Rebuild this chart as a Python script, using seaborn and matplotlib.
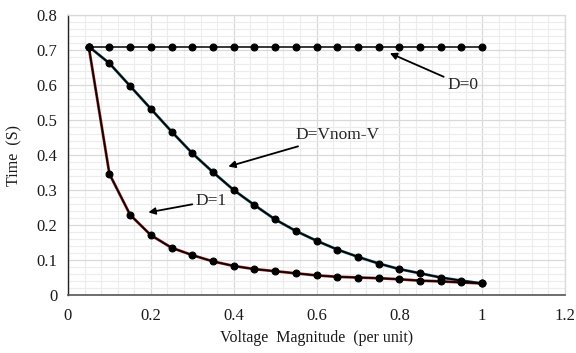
import matplotlib
matplotlib.use("Agg")
import matplotlib.pyplot as plt
import seaborn as sns
import pandas as pd
from matplotlib.ticker import MultipleLocator

voltage = [0.05, 0.10, 0.15, 0.20, 0.25, 0.30, 0.35, 0.40, 0.45, 0.50,
           0.55, 0.60, 0.65, 0.70, 0.75, 0.80, 0.85, 0.90, 0.95, 1.00]
time_d0 = [0.71] * 20
time_dvnom = [0.71, 0.662, 0.597, 0.532, 0.467, 0.405, 0.351, 0.300, 0.257, 0.216,
              0.183, 0.155, 0.130, 0.109, 0.090, 0.074, 0.062, 0.050, 0.041, 0.033]
time_d1 = [0.71, 0.346, 0.229, 0.171, 0.135, 0.114, 0.096, 0.083, 0.074, 0.068,
           0.062, 0.056, 0.052, 0.050, 0.048, 0.045, 0.041, 0.039, 0.036, 0.033]

x_label = "Voltage  Magnitude  (per unit)"
y_label = "Time  (S)"

sns.set_theme(style="white")
plt.rcParams['font.family'] = ['Liberation Serif', 'DejaVu Serif']

fig = plt.figure(figsize=(5.76, 3.53), dpi=100)
ax = fig.add_axes([68/576, 1-295/353, (565-68)/576, (295-15)/353])

df = pd.DataFrame({"V": voltage, "D0": time_d0, "DV": time_dvnom, "D1": time_d1})

# colored under-lines
sns.lineplot(data=df, x="V", y="DV", ax=ax, color="#1d5060", linewidth=2.0, zorder=3)
sns.lineplot(data=df, x="V", y="D1", ax=ax, color="#9a1e1e", linewidth=2.0, zorder=3)
# black lines with markers
for col in ["D0", "DV", "D1"]:
    sns.lineplot(data=df, x="V", y=col, ax=ax, color="black", linewidth=1.1,
                 marker="o", markersize=5, markeredgecolor="black",
                 markerfacecolor="black", zorder=4)

ax.set_xlim(0, 1.2)
ax.set_ylim(0, 0.8)
ax.xaxis.set_major_locator(MultipleLocator(0.2))
ax.xaxis.set_minor_locator(MultipleLocator(0.04))
ax.yaxis.set_major_locator(MultipleLocator(0.1))
ax.yaxis.set_minor_locator(MultipleLocator(0.02))
ax.set_xticks([0, 0.2, 0.4, 0.6, 0.8, 1.0, 1.2])
ax.set_xticklabels(["0", "0.2", "0.4", "0.6", "0.8", "1", "1.2"])
ax.set_yticks([0, 0.1, 0.2, 0.3, 0.4, 0.5, 0.6, 0.7, 0.8])
ax.set_yticklabels(["0", "0.1", "0.2", "0.3", "0.4", "0.5", "0.6", "0.7", "0.8"])

ax.grid(which="major", color="#d9d9d9", linewidth=0.9, zorder=0)
ax.grid(which="minor", color="#ececec", linewidth=0.8, zorder=0)
ax.set_axisbelow(True)

for side in ["top", "right"]:
    ax.spines[side].set_color("#d9d9d9")
    ax.spines[side].set_linewidth(0.9)
ax.spines["left"].set_color("#222222")
ax.spines["bottom"].set_color("#555555")
ax.spines["left"].set_linewidth(1.0)
ax.spines["bottom"].set_linewidth(1.2)

ax.tick_params(axis="both", which="both", direction="out", colors="#222222",
               labelcolor="#1a1a1a", labelsize=12)
ax.tick_params(axis="both", which="major", length=4, width=1)
ax.tick_params(axis="both", which="minor", length=4, width=1)
ax.tick_params(axis="x", pad=5)

ax.set_xlabel(x_label, fontsize=11.5, color="#1a1a1a", labelpad=5)
ax.set_ylabel(y_label, fontsize=11.5, color="#1a1a1a", labelpad=10)

arrow = dict(arrowstyle="-|>", color="black", lw=1.3, mutation_scale=10,
             shrinkA=0, shrinkB=0)
ax.annotate("D=0", xy=(0.777, 0.691), xytext=(0.915, 0.600), fontsize=12.5,
            ha="left", va="center", arrowprops=arrow, zorder=6)
ax.annotate("D=Vnom-V", xy=(0.387, 0.367), xytext=(0.548, 0.457), fontsize=12.5,
            ha="left", va="center", arrowprops=arrow, zorder=6)
ax.annotate("D=1", xy=(0.194, 0.236), xytext=(0.308, 0.269), fontsize=12.5,
            ha="left", va="center", arrowprops=arrow, zorder=6)

fig.savefig("out.png", dpi=100)
